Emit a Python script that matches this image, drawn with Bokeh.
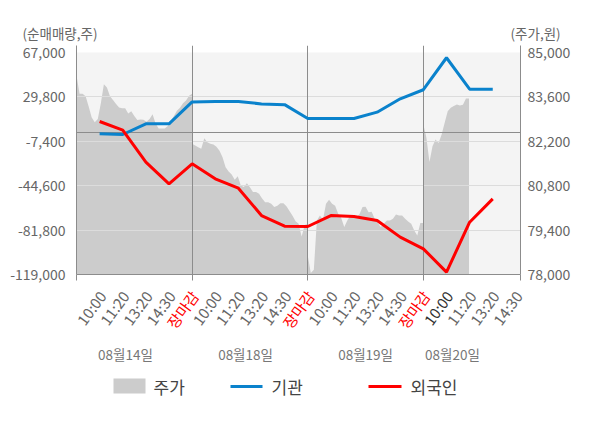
import numpy as np
from bokeh.plotting import figure
from bokeh.models import Range1d, LinearAxis, FixedTicker, NumeralTickFormatter, BoxAnnotation
from bokeh.layouts import column
from bokeh.embed import file_html
from bokeh.resources import INLINE
from bokeh.core.properties import value

FONT = "Noto Sans CJK KR"

# ---------------- data ----------------
DATES = ["08월14일", "08월18일", "08월19일", "08월20일"]
TIME_LABELS = ["10:00", "11:20", "13:20", "14:30", "장마감",
               "10:00", "11:20", "13:20", "14:30", "장마감",
               "10:00", "11:20", "13:20", "14:30", "장마감",
               "10:00", "11:20", "13:20", "14:30"]
INST = [-1100, -1700, 7200, 7200, 25600,
        26000, 26000, 23900, 23300, 11700,
        11700, 11700, 17000, 28200, 35800,
        62600, 36300, 36300]
FOREIGN = [9200, 2000, -24900, -43000, -26250,
           -38800, -46700, -69600, -78500, -78800,
           -69600, -70400, -73800, -87700, -97500,
           -117000, -75200, -55600]
PRICE_D1 = [84275, 83700, 83700, 83620, 83300, 82950, 82800, 82900, 83400, 84000,
            83900, 83620, 83500, 83380, 83265, 83245, 83245, 83075, 83150, 83000,
            82870, 82890, 82880, 82820, 82900, 83050, 82760, 82600, 82600, 82600,
            82680, 82830, 83000, 83160, 83260, 83400, 83490, 83640, 83700]
PRICE_D2 = [82120, 82070, 82015, 81965, 82300, 82170, 82120, 82100, 82030, 81900,
            81700, 81380, 81250, 81150, 80990, 81100, 80805, 80760, 80880, 80750,
            80600, 80600, 80550, 80400, 80280, 80280, 80230, 80130, 80170, 80250,
            80250, 80150, 80000, 79850, 79680, 79600, 79200, 79560, 79600]
PRICE_D3 = [78600, 78050, 78150, 79700, 79860, 79730, 80230, 80360, 80230, 80170,
            79915, 79780, 79500, 79700, 79860, 79830, 79810, 79900, 80125, 80140,
            79965, 79980, 79755, 79620, 79495, 79600, 79700, 79700, 79755, 79890,
            79860, 79860, 79755, 79675, 79600, 79390, 79230, 79620, 79620]
PRICE_D4 = [82730, 82310, 81550, 82045, 82255, 82150, 82415, 82785, 83150, 83255,
            83310, 83360, 83330, 83350, 83550, 83550]
LEFT_TICKS = [-119000, -81800, -44600, -7400, 29800, 67000]
RIGHT_TICKS = [78000, 79400, 80800, 82200, 83600, 85000]

# ---------------- geometry ----------------
SLOTS_PER_DAY = 5
X_END = 19.2
W = 592
FL, FW, FR = 76, 444, 72          # left border, frame width, right border
FH, TOP_PAD = 229, 7
L_MIN, L_MAX = LEFT_TICKS[0], LEFT_TICKS[-1]
R_MIN, R_MAX = RIGHT_TICKS[0], RIGHT_TICKS[-1]
upp = (L_MAX - L_MIN) / (FH - TOP_PAD)
L_TOP = L_MAX + TOP_PAD * upp
R_TOP = R_MAX + TOP_PAD * (R_MAX - R_MIN) / (FH - TOP_PAD)
xpp = X_END / FW

BLUE = "#0a82cc"
RED = "#ff0000"
GRAY_AREA = "#cccccc"
LINE_GRAY = "#8c8c8c"
TXT = "#666666"


def strip(height, x_range):
    f = figure(frame_width=W, frame_height=height, min_border=0,
               x_range=x_range, y_range=Range1d(height, 0),
               output_backend="svg", toolbar_location=None, outline_line_color=None,
               background_fill_color="white", border_fill_color="white",
               frame_align=False)
    f.axis.visible = False
    f.grid.visible = False
    return f


# ---------------- top strip: axis titles ----------------
TOP_H = 42
top = strip(TOP_H, Range1d(0, W))
top.text(x=[22, 510], y=[32.5, 32.5], text=["(순매매량,주)", "(주가,원)"],
         text_font=value(FONT), text_font_size="13.5px", text_baseline="middle",
         text_color=TXT)

# ---------------- main chart ----------------
p = figure(frame_width=FW, frame_height=FH,
           min_border_left=FL, min_border_right=FR, min_border_top=3, min_border_bottom=11,
           x_range=Range1d(0, X_END), y_range=Range1d(L_MIN, L_TOP),
           output_backend="svg", toolbar_location=None,
           background_fill_color="white", border_fill_color="white",
           outline_line_color=None, frame_align=False)
p.grid.visible = False
p.extra_y_ranges = {"price": Range1d(R_MIN, R_TOP)}

p.add_layout(BoxAnnotation(top=L_MAX, fill_color="#f4f4f4", fill_alpha=1,
                           line_color=None, level="underlay"))

step = SLOTS_PER_DAY / (len(PRICE_D1) - 1)
px, py = [], []
for d, arr in enumerate([PRICE_D1, PRICE_D2, PRICE_D3, PRICE_D4]):
    px.extend(list(SLOTS_PER_DAY * d + np.arange(len(arr)) * step))
    py.extend(arr)
p.varea(x=px, y1=R_MIN, y2=py, y_range_name="price", fill_color=GRAY_AREA, fill_alpha=1)

p.hspan(y=LEFT_TICKS[1:-1], line_color="#dcdcdc", line_width=1)
p.hspan(y=[0], line_color=LINE_GRAY, line_width=1)
p.vspan(x=[SLOTS_PER_DAY * d for d in range(1, len(DATES))], line_color=LINE_GRAY, line_width=1)

lx = list(range(1, len(INST) + 1))
p.line(lx, INST, line_color=BLUE, line_width=3)
p.line(lx, FOREIGN, line_color=RED, line_width=3)

ya = p.yaxis[0]
ya.ticker = FixedTicker(ticks=LEFT_TICKS)
ya.formatter = NumeralTickFormatter(format="0,0")
ra = LinearAxis(y_range_name="price", ticker=FixedTicker(ticks=RIGHT_TICKS),
                formatter=NumeralTickFormatter(format="0,0"))
p.add_layout(ra, "right")
for ax in (ya, ra):
    ax.major_label_text_font = FONT
    ax.major_label_text_font_size = "14px"
    ax.major_label_text_color = TXT
    ax.major_tick_out = 0
    ax.major_tick_in = 0
    ax.minor_tick_out = 0
    ax.minor_tick_in = 0
    ax.axis_line_color = LINE_GRAY
ya.major_label_standoff = 11
ra.major_label_standoff = 7

xa = p.xaxis[0]
xa.ticker = FixedTicker(ticks=[], minor_ticks=[0, 5, 10, 15, X_END])
xa.axis_line_color = LINE_GRAY
xa.minor_tick_line_color = LINE_GRAY
xa.minor_tick_out = 6
xa.minor_tick_in = 0
xa.major_tick_out = 0
xa.major_tick_in = 0
xa.major_label_standoff = 0

# ---------------- bottom strip: time + date labels ----------------
BOT_H = 83
bot = strip(BOT_H, Range1d(-FL * xpp, (W - FL) * xpp))
lab_x = [k + 1 for k in range(len(TIME_LABELS))]
cols = [RED if lab == "장마감" else ("#333333" if k == 15 else TXT)
        for k, lab in enumerate(TIME_LABELS)]
bot.text(x=lab_x, y=[1] * len(lab_x), text=TIME_LABELS, angle=54, angle_units="deg",
         x_offset=-6, text_align="right", text_baseline="top",
         text_font=value(FONT), text_font_size="15px", text_color=cols)
DATE_POS = [2.12, 7.31, 12.5, 16.26]
bot.text(x=DATE_POS, y=[68] * len(DATES), text=DATES, text_align="center",
         text_baseline="middle", text_font=value(FONT), text_font_size="13.5px",
         text_color="#777777")

# ---------------- legend strip ----------------
LH = 45
lg = strip(LH, Range1d(0, W))
lg.quad(left=113, right=145, top=10, bottom=25, fill_color=GRAY_AREA, line_color=None)
lg.line([230, 262], [18, 18], line_color=BLUE, line_width=3)
lg.line([368, 401], [18, 18], line_color=RED, line_width=3)
lg.text(x=[153, 271, 410], y=[18, 18, 18], text=["주가", "기관", "외국인"],
        text_font=value(FONT), text_font_size="17px", text_baseline="middle",
        text_color="#444444")

layout = column(top, p, bot, lg)
open("out.html", "w").write(file_html(layout, INLINE))
